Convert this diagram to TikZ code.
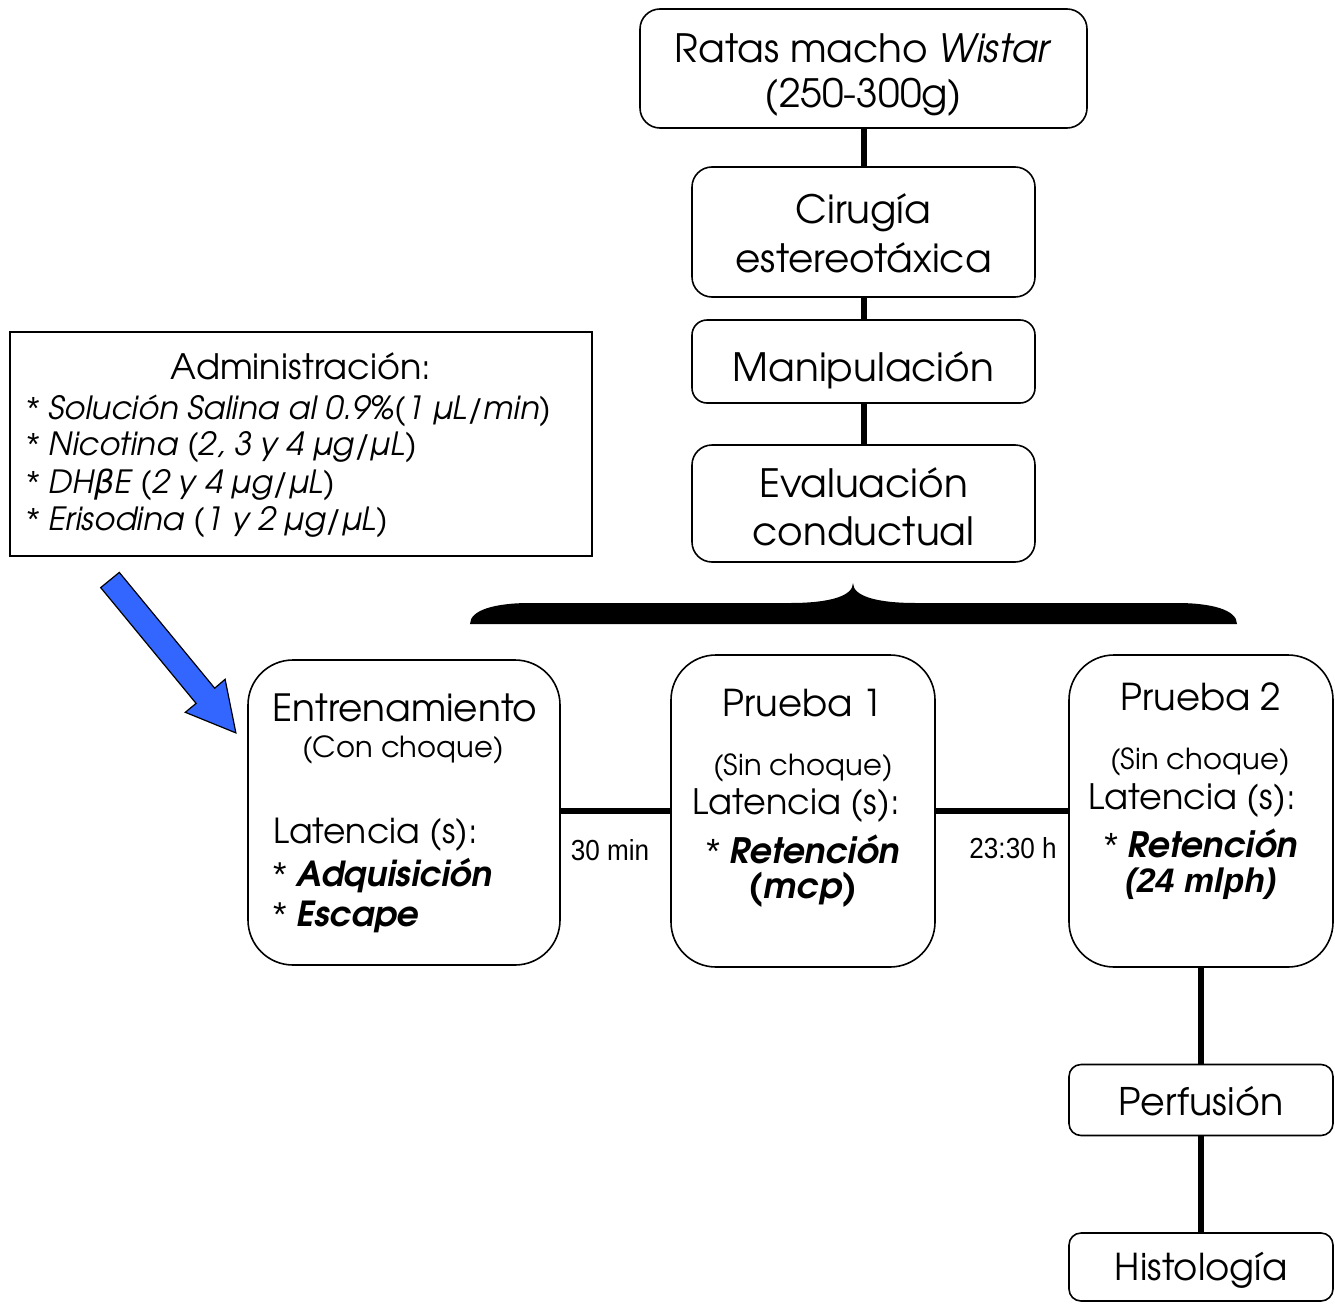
\documentclass[tikz,border=0pt]{standalone}
\usepackage{fontspec}
\usepackage{graphicx}
\setmainfont{TeX Gyre Adventor}
\newfontfamily\arialf{Liberation Sans}
\newfontfamily\dejavuf{DejaVu Sans}
\definecolor{arrowblue}{RGB}{51,102,255}
\newcommand{\myast}{{\arialf\upshape *}}
\tikzset{
  rbox/.style={draw, line width=1.6pt, rounded corners=#1, inner sep=0pt},
  txt/.style={inner sep=0pt, align=center},
  ltxt/.style={inner sep=0pt, align=left, anchor=west},
  link/.style={line width=6pt},
  timelbl/.style={inner sep=0pt, font=\arialf\fontsize{29}{32}\selectfont}
}
\begin{document}
\begin{tikzpicture}[x=1pt,y=-1pt]
\useasboundingbox (0,0) rectangle (1335,1303);
% top chain
\node[rbox=20pt, minimum width=447pt, minimum height=119pt] (ratas) at (863.5,68.5) {};
\node[rbox=20pt, minimum width=343pt, minimum height=130pt] (cirugia) at (863.5,232) {};
\node[rbox=15pt, minimum width=343pt, minimum height=83pt] (manip) at (863.5,361.5) {};
\node[rbox=20pt, minimum width=343pt, minimum height=117pt] (eval) at (863.5,503.5) {};
\node[txt, font=\fontsize{39}{45}\selectfont] (ratasT) at (863.5,75) {Ratas macho \textit{Wistar}\\(250-300g)};
\node[txt, font=\fontsize{39}{49}\selectfont] (cirugiaT) at (863.5,233) {Cirugía\\estereotáxica};
\node[txt, font=\fontsize{39}{47}\selectfont] (manipT) at (863.5,370) {Manipulación};
\node[txt, font=\fontsize{39}{48}\selectfont] (evalT) at (863.5,507) {Evaluación\\conductual};
\draw[link] (ratas.south) -- (cirugia.north);
\draw[link] (cirugia.south) -- (manip.north);
\draw[link] (manip.south) -- (eval.north);
% administration box
\node[draw, line width=1.3pt, minimum width=582pt, minimum height=224pt, inner sep=0pt] (admin) at (301,444) {};
\node[txt, font=\fontsize{35}{40}\selectfont] (admtitle) at (301,366) {Administración:};
\node[ltxt, font=\fontsize{32}{37}\selectfont\itshape] (adm1) at (27,411) {\myast{} Solución Salina al 0.9\%(1 µL/min)};
\node[ltxt, font=\fontsize{32}{37}\selectfont\itshape] (adm2) at (27,447) {\myast{} Nicotina (2, 3 y 4 µg/µL)};
\node[ltxt, font=\fontsize{32}{37}\selectfont\itshape] (adm3) at (27,485) {\myast{} DH{\dejavuf\itshape β}E (2 y 4 µg/µL)};
\node[ltxt, font=\fontsize{32}{37}\selectfont\itshape] (adm4) at (27,522) {\myast{} Erisodina (1 y 2 µg/µL)};
% blue arrow
\draw[fill=arrowblue, line width=1.2pt, line join=miter]
  (119.3,572.4) -- (214.7,688.2) -- (225.1,679.3) -- (235.9,732.9) -- (185.3,712.3) -- (196.1,703.4) -- (100.7,587.6) -- cycle;
% brace
\fill (470,624) .. controls (470,610) and (495,603) .. (530,603) -- (790,603)
  .. controls (830,603) and (853,596) .. (853,583)
  .. controls (853,596) and (876,603) .. (916,603) -- (1177,603)
  .. controls (1212,603) and (1237,610) .. (1237,624) -- cycle;
% lower boxes
\node[rbox=45pt, minimum width=312pt, minimum height=305pt] (entr) at (404,812.5) {};
\node[rbox=45pt, minimum width=264pt, minimum height=312pt] (p1) at (803,811) {};
\node[rbox=45pt, minimum width=264pt, minimum height=312pt] (p2) at (1201,811) {};
\node[txt, font=\fontsize{37.5}{40}\selectfont] (entrT) at (405,708) {Entrenamiento};
\node[txt, font=\fontsize{29}{32}\selectfont] (entrS) at (403,750) {(Con choque)};
\node[ltxt, font=\fontsize{34.5}{40}\selectfont] (entrL) at (273,835) {Latencia (s):};
\node[ltxt, font=\fontsize{34.5}{40}\selectfont] (entrA) at (273,876) {\myast{} \textbf{\textit{Adquisición}}};
\node[ltxt, font=\fontsize{34.5}{40}\selectfont] (entrE) at (273,917) {\myast{} \textbf{\textit{Escape}}};
\node[txt, font=\fontsize{37}{40}\selectfont] (p1T) at (803,703) {Prueba 1};
\node[txt, font=\fontsize{29}{32}\selectfont] (p1S) at (803,768) {(Sin choque)};
\node[txt, font=\fontsize{35}{40}\selectfont] (p1L) at (796,806) {Latencia (s):};
\node[txt, font=\fontsize{35}{40}\selectfont] (p1R) at (803,849) {\myast{} \textbf{\textit{Retención}}};
\node[txt, font=\fontsize{35}{40}\selectfont] (p1M) at (803,890) {\textbf{\textit{(mcp)}}};
\node[txt, font=\fontsize{37}{40}\selectfont] (p2T) at (1201,697) {Prueba 2};
\node[txt, font=\fontsize{29}{32}\selectfont] (p2S) at (1200,762) {(Sin choque)};
\node[txt, font=\fontsize{35}{40}\selectfont] (p2L) at (1192,801) {Latencia (s):};
\node[txt, font=\fontsize{35}{40}\selectfont] (p2R) at (1201,843) {\myast{} \textbf{\textit{Retención}}};
\node[txt, font=\arialf\fontsize{34}{40}\selectfont\bfseries\itshape] (p2M) at (1201,884) {(24 mlph)};
\draw[link] (entr.east |- 0,811) -- (p1.west |- 0,811);
\draw[link] (p1.east |- 0,811) -- (p2.west |- 0,811);
\node[timelbl] (t1) at (610,850) {\scalebox{0.9}[1]{30 min}};
\node[timelbl] (t2) at (1013,848) {\scalebox{0.9}[1]{23:30 h}};
% right chain
\node[rbox=12pt, minimum width=264pt, minimum height=71pt] (perf) at (1201,1100) {};
\node[rbox=12pt, minimum width=264pt, minimum height=68pt] (hist) at (1201,1267) {};
\node[txt, font=\fontsize{38}{40}\selectfont] (perfT) at (1201,1101) {Perfusión};
\node[txt, font=\fontsize{37}{40}\selectfont] (histT) at (1201,1270) {Histología};
\draw[link] (p2.south) -- (perf.north);
\draw[link] (perf.south) -- (hist.north);
\end{tikzpicture}
\end{document}
